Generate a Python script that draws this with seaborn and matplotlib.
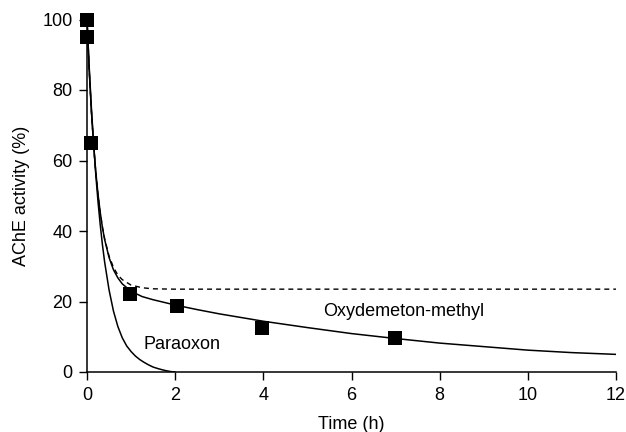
import matplotlib
matplotlib.use("Agg")
import matplotlib.pyplot as plt
import seaborn as sns

# Measured points (Oxydemeton-methyl)
obs_time = [0.0, 0.0, 0.08, 0.98, 2.04, 3.98, 6.98]
obs_activity = [100.0, 95.0, 65.0, 22.2, 18.8, 12.5, 9.6]

# Solid fitted curve, Oxydemeton-methyl
oxy_time = [0.0, 0.05, 0.1, 0.15, 0.2, 0.25, 0.3, 0.35, 0.4, 0.5, 0.6, 0.7, 0.8,
            1.0, 1.25, 1.5, 2.0, 2.5, 3.0, 4.0, 5.0, 6.0, 7.0, 8.0, 9.0, 10.0, 11.0, 12.0]
oxy_activity = [100.0, 85.6, 73.9, 64.5, 56.7, 50.4, 45.3, 41.0, 37.6, 32.5, 29.0, 26.7, 25.0,
                22.9, 21.4, 20.5, 19.0, 17.7, 16.5, 14.4, 12.6, 10.9, 9.5, 8.2, 7.2, 6.2, 5.5, 5.0]

# Dashed curve (plateau)
dash_time = [0.0, 0.05, 0.1, 0.15, 0.2, 0.25, 0.3, 0.35, 0.4, 0.5, 0.6, 0.7, 0.8,
             1.0, 1.25, 1.5, 2.0, 12.0]
dash_activity = [100.0, 85.5, 73.8, 64.3, 56.5, 50.3, 45.2, 41.1, 37.8, 32.9, 29.7, 27.5, 26.2,
                 24.65, 23.9, 23.6, 23.5, 23.5]

# Paraoxon curve
para_time = [0.0, 0.05, 0.1, 0.15, 0.2, 0.25, 0.3, 0.35, 0.4, 0.5, 0.6, 0.7, 0.8,
             0.9, 1.0, 1.1, 1.2, 1.3, 1.4, 1.5, 1.6, 1.7, 1.8, 1.9, 2.0]
para_activity = [100.0, 86.5, 74.8, 64.7, 55.9, 48.3, 41.8, 36.1, 31.2, 23.3, 17.3, 12.9, 9.7,
                 7.4, 5.8, 4.5, 3.5, 2.7, 2.0, 1.4, 1.0, 0.65, 0.35, 0.12, 0.0]

x_ticks = [0, 2, 4, 6, 8, 10, 12]
y_ticks = [0, 20, 40, 60, 80, 100]

sns.set_style("ticks")
plt.rcParams["font.family"] = ["Liberation Sans", "DejaVu Sans"]
plt.rcParams["font.size"] = 13
plt.rcParams["text.color"] = "black"
plt.rcParams["axes.labelcolor"] = "black"
plt.rcParams["xtick.color"] = "black"
plt.rcParams["ytick.color"] = "black"

fig = plt.figure(figsize=(6.26, 4.32), dpi=100)
ax = fig.add_axes([87 / 626, 60 / 432, 529 / 626, 352.5 / 432])

sns.lineplot(x=para_time, y=para_activity, ax=ax, color="black", linewidth=1.1,
             sort=False, estimator=None)
sns.lineplot(x=dash_time, y=dash_activity, ax=ax, color="black", linewidth=1.0,
             sort=False, estimator=None, linestyle=(0, (3.6, 2.9)))
sns.lineplot(x=oxy_time, y=oxy_activity, ax=ax, color="black", linewidth=1.1,
             sort=False, estimator=None)
sns.scatterplot(x=obs_time, y=obs_activity, ax=ax, marker="s", s=100, color="black",
                edgecolor="black", linewidth=0, clip_on=False, zorder=5)

ax.set_xlim(0, 12)
ax.set_ylim(0, 100)
ax.set_xticks(x_ticks)
ax.set_yticks(y_ticks)
ax.tick_params(direction="out", length=5.5, width=1.0, pad=5, labelsize=13,
               colors="black", labelcolor="black")
for s in ["top", "right"]:
    ax.spines[s].set_visible(False)
for s in ["left", "bottom"]:
    ax.spines[s].set_linewidth(1.1)
    ax.spines[s].set_color("black")

ax.set_xlabel("Time (h)", fontsize=13, labelpad=9, color="black")
ax.set_ylabel("AChE activity (%)", fontsize=13, labelpad=9, color="black")

ax.text(1.29, 7.7, "Paraoxon", fontsize=13, va="center", ha="left", color="black")
ax.text(5.36, 17.1, "Oxydemeton-methyl", fontsize=13, va="center", ha="left", color="black")

fig.savefig("out.png", dpi=100)
